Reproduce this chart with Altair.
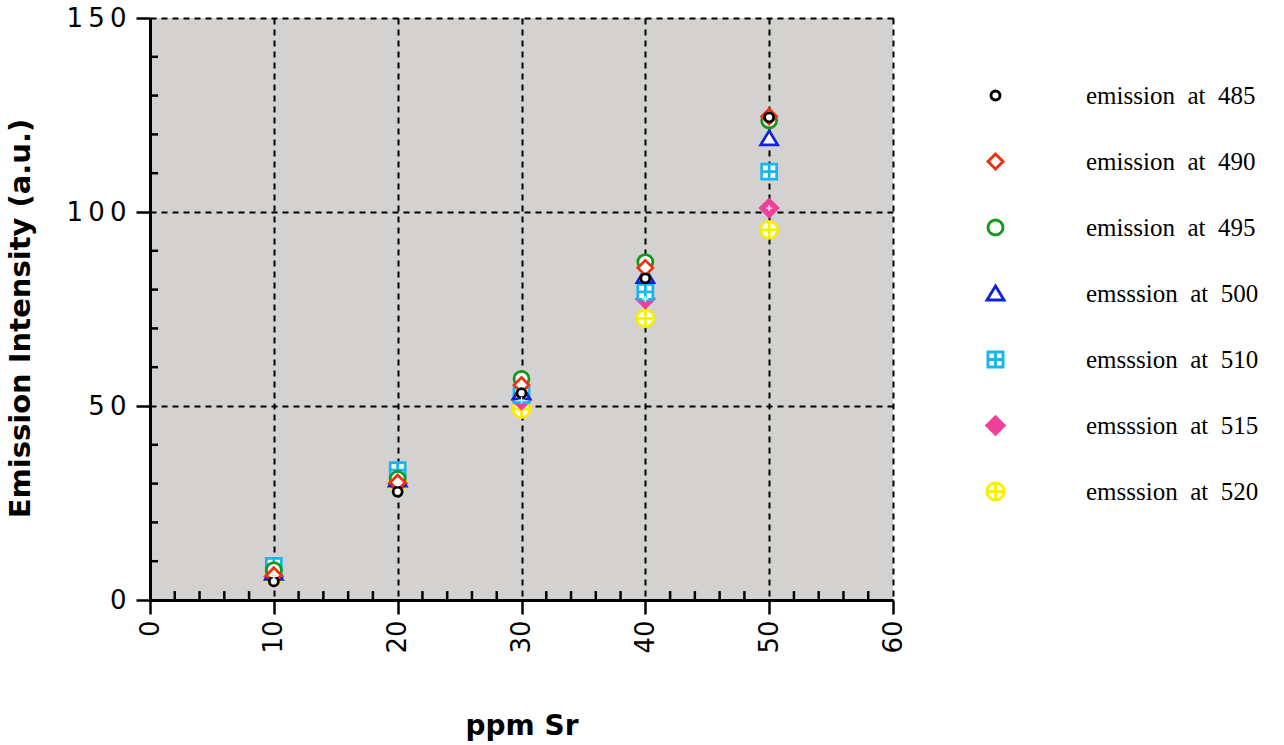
import altair as alt
import pandas as pd

# ---- data ----
ppm = [10, 20, 30, 40, 50]
series_names = [
    "emission\u00a0\u00a0at\u00a0\u00a0485",
    "emission\u00a0\u00a0at\u00a0\u00a0490",
    "emission\u00a0\u00a0at\u00a0\u00a0495",
    "emsssion\u00a0\u00a0at\u00a0\u00a0500",
    "emsssion\u00a0\u00a0at\u00a0\u00a0510",
    "emsssion\u00a0\u00a0at\u00a0\u00a0515",
    "emsssion\u00a0\u00a0at\u00a0\u00a0520",
]
em485 = [4.8, 27.9, 53.3, 82.9, 124.4]
em490 = [6.4, 30.3, 55.4, 85.6, 124.6]
em495 = [7.7, 31.2, 57.0, 87.1, 123.6]
em500 = [7.0, 31.0, 53.5, 83.5, 119.0]
em510 = [8.8, 33.5, 52.8, 79.4, 110.4]
em515 = [6.0, 30.0, 51.5, 77.6, 101.0]
em520 = [6.0, 30.0, 49.2, 72.6, 95.4]
all_series = [em485, em490, em495, em500, em510, em515, em520]

stroke_colors = ["#000000", "#ee3010", "#109a1a", "#1024d8", "#12b8ee", "#f0409a", "#f6f000"]
fill_colors = ["#ffffff", "#ffffff", "#ffffff", "#ffffff", "#ffffff", "#f0409a", "#ffffff"]
# every symbol carries the same invisible extent so legend rows are even
_ext = " M-2.6,-2.6 M2.6,2.6"
shape_paths = [
    "M-0.9,0A0.9,0.9 0 1,0 0.9,0A0.9,0.9 0 1,0 -0.9,0Z" + _ext,
    "M0,-1.5L1.5,0L0,1.5L-1.5,0Z" + _ext,
    "M-1.5,0A1.5,1.5 0 1,0 1.5,0A1.5,1.5 0 1,0 -1.5,0Z" + _ext,
    "M0,-1.5L1.7,1.3L-1.7,1.3Z" + _ext,
    "M-1.5,-1.5H1.5V1.5H-1.5Z M0,-1.5V1.5 M-1.5,0H1.5" + _ext,
    "M0,-1.75L1.75,0L0,1.75L-1.75,0Z" + _ext,
    "M-1.7,0A1.7,1.7 0 1,0 1.7,0A1.7,1.7 0 1,0 -1.7,0Z M0,-1.7V1.7 M-1.7,0H1.7" + _ext,
]

x_major = [0, 10, 20, 30, 40, 50, 60]
y_major = [0, 50, 100, 150]
x_minor = [v for v in range(2, 60, 2) if v % 10 != 0]
y_minor = [v for v in range(10, 150, 10) if v % 50 != 0]

# long table, drawn in reverse legend order so 485 ends on top
rows = []
for name, vals in reversed(list(zip(series_names, all_series))):
    for xv, yv in zip(ppm, vals):
        rows.append({"ppm": xv, "intensity": yv, "series": name})
df = pd.DataFrame(rows)

xscale = alt.Scale(domain=[0, 60], nice=False, zero=False)
yscale = alt.Scale(domain=[0, 150], nice=False, zero=False)

legend = alt.Legend(
    title=None, orient="none", legendX=833, legendY=65, padding=0,
    labelFont="Liberation Serif", labelFontSize=25, labelColor="black",
    labelOffset=78, rowPadding=27, symbolSize=100, symbolStrokeWidth=2.9,
    labelLimit=400,
)

points = alt.Chart(df).mark_point(filled=True, size=100, strokeWidth=2.75, opacity=1).encode(
    x=alt.X("ppm:Q", scale=xscale, title="ppm Sr",
            axis=alt.Axis(values=x_major, labelAngle=270, labelPadding=6,
                          titlePadding=59)),
    y=alt.Y("intensity:Q", scale=yscale, title="Emission Intensity (a.u.)",
            axis=alt.Axis(values=y_major, labelPadding=10, titlePadding=30,
                          titleY=300, titleFontSize=29,
                          labelExpr="join(split(datum.label, ''), '\u2009')")),
    shape=alt.Shape("series:N", scale=alt.Scale(domain=series_names, range=shape_paths), legend=legend),
    stroke=alt.Stroke("series:N", scale=alt.Scale(domain=series_names, range=stroke_colors), legend=legend),
    fill=alt.Fill("series:N", scale=alt.Scale(domain=series_names, range=fill_colors), legend=legend),
)

pink_cross = alt.Chart(df).transform_filter(
    alt.datum.series == series_names[5]
).mark_point(shape="M-0.6,0H0.6M0,-0.6V0.6", size=100, stroke="white",
             strokeWidth=1.3, filled=False, opacity=1).encode(
    x=alt.X("ppm:Q", scale=xscale),
    y=alt.Y("intensity:Q", scale=yscale),
)

xminor_df = pd.DataFrame({"v": x_minor})
yminor_df = pd.DataFrame({"v": y_minor})

x_minor_ticks = alt.Chart(xminor_df).mark_rule(color="black", strokeWidth=2.5).encode(
    x=alt.X("v:Q", scale=xscale),
    y=alt.datum(0, scale=yscale),
    y2=alt.datum(2.3),
)
y_minor_ticks = alt.Chart(yminor_df).mark_rule(color="black", strokeWidth=2.5).encode(
    y=alt.Y("v:Q", scale=yscale),
    x=alt.datum(0, scale=xscale),
    x2=alt.datum(0.65),
)

chart = alt.layer(x_minor_ticks, y_minor_ticks, points, pink_cross).properties(
    width=743, height=582,
    autosize=alt.AutoSizeParams(type="none"),
    padding={"left": 150, "top": 18, "right": 391, "bottom": 145},
    background="white",
).configure_view(
    fill="#d3d2d1", stroke=None,
).configure_axis(
    domainColor="black", domainWidth=3,
    tickColor="black", tickWidth=2.5, tickSize=14,
    grid=True, gridColor="black", gridWidth=2, gridDash=[6, 5], gridOpacity=1,
    labelFont="DejaVu Sans", labelFontSize=26, labelColor="black",
    titleFont="DejaVu Sans", titleFontSize=28, titleFontWeight="bold", titleColor="black",
)

chart.save("out.html", embed_options={"renderer": "svg", "actions": False})
